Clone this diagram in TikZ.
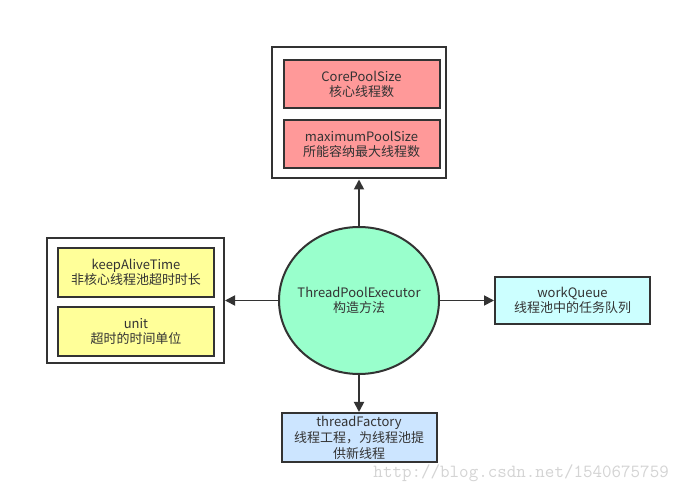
\documentclass[tikz,border=0pt]{standalone}
\usepackage{fontspec}
\newfontfamily\cjk{Noto Sans CJK SC}
\usetikzlibrary{shapes.geometric,arrows.meta}
\definecolor{linec}{HTML}{333333}
\definecolor{redf}{HTML}{FF9999}
\definecolor{yelf}{HTML}{FFFF99}
\definecolor{grnf}{HTML}{99FFCC}
\definecolor{cyaf}{HTML}{CCFFFF}
\definecolor{bluf}{HTML}{CCE5FF}
\definecolor{wmark}{HTML}{D4D4D4}
\tikzset{
  txt/.style={font=\cjk\fontsize{13}{15}\selectfont, text=linec, align=center},
  outerbox/.style={draw=linec, line width=2pt, fill=white, inner sep=0pt},
  card/.style={txt, draw=linec, line width=2pt, inner sep=0pt, minimum width=155pt, minimum height=48pt},
  conn/.style={draw=linec, line width=1.8pt, -{Triangle[length=10pt,width=10pt]}},
}
\begin{document}
\begin{tikzpicture}[x=1pt,y=-1pt]
\useasboundingbox[fill=white] (0,0) rectangle (681,494);
% top group
\node[outerbox, minimum width=174pt, minimum height=131pt] (topbox) at (359,113) {};
\node[card, fill=redf, minimum width=156pt, minimum height=48pt] (core) at (361.5,84.5) {CorePoolSize\\核心线程数};
\node[card, fill=redf, minimum width=156pt, minimum height=48pt] (maxp) at (361.5,144) {maximumPoolSize\\所能容纳最大线程数};
% left group
\node[outerbox, minimum width=177pt, minimum height=125pt] (leftbox) at (135.5,300.5) {};
\node[card, fill=yelf, minimum width=156pt, minimum height=49pt] (keep) at (136,272.5) {keepAliveTime\\非核心线程池超时时长};
\node[card, fill=yelf, minimum width=156pt, minimum height=49pt] (unit) at (136,331.5) {unit\\超时的时间单位};
% center
\node[ellipse, draw=linec, line width=2pt, fill=grnf, inner sep=0pt, minimum width=160pt, minimum height=147pt] (tpe) at (359,300.5) {};
\node[txt] (tpetext) at (tpe.center) {ThreadPoolExecutor\\构造方法};
% right
\node[card, fill=cyaf, minimum width=155pt, minimum height=47pt] (wq) at (572.5,300.5) {workQueue\\线程池中的任务队列};
% bottom
\node[card, fill=bluf, minimum width=155pt, minimum height=49pt, font=\cjk\fontsize{13}{16}\selectfont] (tf) at (359,437.5) {threadFactory\\线程工程，为线程池提\\供新线程};
% connectors
\draw[conn] (tpe.north) -- (topbox.south);
\draw[conn] (tpe.west) -- (leftbox.east);
\draw[conn] (tpe.east) -- (wq.west);
\draw[conn] (tpe.south) -- (tf.north);
% watermark
\node[font=\ttfamily\fontsize{18.5}{20}\selectfont, text=wmark, inner sep=0pt, anchor=east] (wm) at (669,473) {http://blog.csdn.net/1540675759};
\end{tikzpicture}
\end{document}
